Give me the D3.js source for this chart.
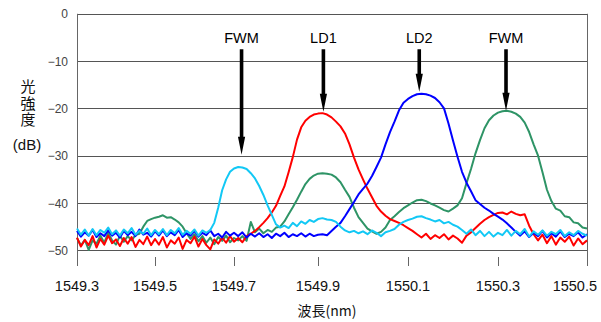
<!DOCTYPE html>
<html><head><meta charset="utf-8">
<script src="https://cdn.jsdelivr.net/npm/d3@7"></script>
<style>body{margin:0;background:#fff}svg{display:block}</style>
</head><body><svg id="c" width="601" height="322"></svg>
<script>
const wavelengths = [1549.30,1549.31,1549.32,1549.33,1549.34,1549.35,1549.36,1549.37,1549.38,1549.39,1549.40,1549.41,1549.42,1549.43,1549.44,1549.45,1549.46,1549.47,1549.48,1549.49,
1549.50,1549.51,1549.52,1549.53,1549.54,1549.55,1549.56,1549.57,1549.58,1549.59,1549.60,1549.61,1549.62,1549.63,1549.64,1549.65,1549.66,1549.67,1549.68,1549.69,
1549.70,1549.71,1549.72,1549.73,1549.74,1549.75,1549.76,1549.77,1549.78,1549.79,1549.80,1549.81,1549.82,1549.83,1549.84,1549.85,1549.86,1549.87,1549.88,1549.89,
1549.90,1549.91,1549.92,1549.93,1549.94,1549.95,1549.96,1549.97,1549.98,1549.99,1550.00,1550.01,1550.02,1550.03,1550.04,1550.05,1550.06,1550.07,1550.08,1550.09,
1550.10,1550.11,1550.12,1550.13,1550.14,1550.15,1550.16,1550.17,1550.18,1550.19,1550.20,1550.21,1550.22,1550.23,1550.24,1550.25,1550.26,1550.27,1550.28,1550.29,
1550.30,1550.31,1550.32,1550.33,1550.34,1550.35,1550.36,1550.37,1550.38,1550.39,1550.40,1550.41,1550.42,1550.43,1550.44,1550.45,1550.46,1550.47,1550.48,1550.49,1550.50];

const greenPower = [-47.4,-49.0,-47.8,-49.9,-47.9,-48.6,-46.9,-48.4,-46.3,-47.9,-48.8,-46.9,-48.2,-47.0,-47.9,-46.8,-46.5,-45.0,-43.8,-43.4,-43.1,
-42.9,-42.6,-43.1,-43.0,-43.5,-44.1,-45.0,-46.4,-47.6,-46.6,-48.1,-47.0,-48.4,-47.3,-48.7,-47.2,-48.0,-46.9,-48.3,-47.4,
-47.9,-47.0,-48.0,-44.0,-46.2,-45.4,-46.4,-45.7,-46.1,-45.2,-45.0,-43.9,-42.4,-40.9,-39.3,-37.6,-36.0,-34.9,-34.2,-33.8,
-33.7,-33.8,-34.0,-34.6,-35.6,-37.2,-38.7,-41.0,-43.0,-44.2,-45.4,-46.0,-46.5,-46.1,-45.2,-43.6,-42.8,-41.9,-41.1,-40.5,
-39.9,-39.4,-39.3,-39.6,-40.1,-40.5,-41.0,-41.5,-41.8,-41.2,-40.5,-39.0,-35.8,-32.8,-29.5,-26.7,-24.2,-22.5,-21.5,-20.9,
-20.6,-20.5,-20.7,-21.1,-21.8,-23.0,-25.0,-27.6,-30.0,-33.5,-37.2,-39.6,-41.2,-41.6,-42.8,-43.0,-44.1,-44.3,-45.2,-45.4];

const redPower = [-47.3,-49.2,-47.8,-48.9,-47.0,-49.4,-47.6,-48.8,-46.9,-48.5,-47.7,-49.1,-47.4,-48.6,-47.2,-49.3,-47.8,-48.7,-47.1,-48.9,-47.6,
-48.8,-47.2,-49.4,-47.9,-48.6,-47.3,-49.7,-47.8,-48.5,-47.1,-49.2,-47.6,-48.9,-49.8,-47.7,-48.6,-47.3,-48.4,-47.0,-48.2,
-47.4,-48.3,-47.0,-46.5,-45.9,-45.1,-44.2,-43.2,-42.0,-40.6,-38.5,-36.5,-33.5,-30.3,-26.6,-24.0,-22.6,-21.8,-21.3,-21.1,
-21.0,-21.3,-21.9,-22.8,-23.8,-25.3,-27.6,-30.4,-32.9,-35.0,-37.0,-38.8,-40.6,-41.8,-42.7,-43.4,-43.8,-44.2,-44.7,-45.3,
-45.9,-46.6,-47.3,-46.5,-47.6,-46.8,-47.4,-46.6,-47.7,-46.9,-47.5,-48.4,-46.9,-46.2,-45.3,-44.4,-43.6,-43.0,-42.5,-42.1,
-42.0,-42.4,-41.8,-42.3,-42.6,-42.4,-44.8,-46.6,-47.9,-46.7,-48.5,-47.0,-48.8,-47.3,-48.2,-47.1,-49.0,-47.5,-48.7,-47.9];

const bluePower = [-45.9,-47.1,-46.2,-46.9,-45.7,-47.2,-46.4,-47.0,-45.8,-46.9,-46.3,-47.3,-45.9,-46.8,-46.1,-47.0,-45.6,-46.7,-46.3,-47.1,-46.0,
-46.9,-45.8,-47.0,-46.2,-46.8,-45.7,-47.2,-46.4,-46.9,-45.9,-47.1,-46.3,-46.8,-45.8,-47.0,-46.5,-47.3,-46.1,-46.9,-46.3,
-47.0,-46.2,-47.3,-46.5,-47.1,-46.4,-47.2,-46.6,-47.4,-46.5,-47.0,-46.3,-47.2,-46.6,-47.0,-46.4,-47.1,-46.5,-47.0,-46.7,
-46.6,-46.8,-45.9,-45.0,-44.2,-42.8,-41.3,-39.8,-38.2,-37.0,-35.9,-34.3,-32.4,-30.4,-27.6,-25.0,-22.8,-20.4,-18.8,-18.0,
-17.4,-17.0,-16.9,-17.0,-17.3,-17.8,-18.7,-20.0,-23.2,-26.8,-30.2,-33.4,-35.7,-37.5,-39.4,-40.2,-41.0,-41.6,-42.3,-42.9,
-43.5,-44.3,-45.2,-46.1,-46.9,-46.0,-47.2,-46.3,-47.0,-45.9,-47.3,-46.4,-47.1,-46.0,-47.2,-46.5,-47.0,-46.2,-47.3,-46.6];

const cyanPower = [-45.4,-46.7,-45.6,-46.9,-45.5,-46.8,-45.7,-46.3,-45.2,-46.6,-45.8,-46.9,-45.6,-46.4,-45.3,-46.7,-45.9,-46.5,-45.4,-46.8,-45.7,
-46.6,-45.5,-46.8,-45.7,-46.4,-45.3,-46.7,-45.9,-46.5,-45.6,-46.9,-45.8,-46.3,-45.7,-44.2,-41.0,-37.3,-35.0,-33.4,-32.7,
-32.4,-32.5,-32.8,-33.7,-34.8,-36.4,-38.3,-40.5,-42.5,-44.5,-45.2,-44.8,-45.3,-44.2,-44.9,-43.9,-44.4,-43.6,-44.0,-43.4,
-43.2,-43.5,-43.6,-44.0,-45.0,-45.8,-46.2,-45.9,-46.4,-46.0,-46.6,-45.8,-46.3,-47.0,-46.2,-45.9,-45.5,-44.6,-44.0,-43.6,
-43.3,-42.9,-42.8,-43.2,-43.5,-43.9,-43.6,-44.3,-44.0,-44.6,-45.0,-45.7,-46.5,-45.6,-46.8,-45.9,-47.0,-46.1,-47.1,-46.3,
-46.8,-45.7,-46.9,-45.9,-46.6,-45.5,-47.1,-46.0,-46.7,-45.8,-46.9,-46.1,-46.6,-45.7,-47.0,-46.2,-46.8,-45.9,-46.5,-46.9];

const xTicks = [1549.3,1549.5,1549.7,1549.9,1550.1,1550.3,1550.5];
const xTickLabels = ["1549.3","1549.5","1549.7","1549.9","1550.1","1550.3","1550.5"];
const yTicks = [0,-10,-20,-30,-40,-50];
const yTickLabels = ["0","\u221210","\u221220","\u221230","\u221240","\u221250"];
const arrowLabels = ["FWM","LD1","LD2","FWM"];
const arrowX = [1549.718,1549.912,1550.125,1550.318];
const arrowTip = [-29.8,-20.7,-16.5,-20.5];
const arrowTop = -7.5;

const seriesList = [
  {values: greenPower, color: "#2e9466"},
  {values: redPower, color: "#ff0000"},
  {values: bluePower, color: "#0000ff"},
  {values: cyanPower, color: "#12c8f5"}
];

const svg = d3.select("#c");
const x = d3.scaleLinear().domain(xTicks).range([77,155,234,318,408,498,587]);
const y = d3.scaleLinear().domain([0,-50]).range([13.8,250.3]);
const font = "'Liberation Sans', Arial, sans-serif";
const cjk = "'Noto Sans CJK JP', 'Noto Sans CJK SC', sans-serif";

// gridlines
svg.append("g").selectAll("line").data(yTicks).join("line")
  .attr("x1", x(1549.3)).attr("x2", x(1550.5))
  .attr("y1", d => Math.round(y(d)) + 0.5).attr("y2", d => Math.round(y(d)) + 0.5)
  .attr("stroke", "#555").attr("stroke-width", 1);

// frame verticals & x ticks
const axisBottom = 266;
svg.append("g").selectAll("line").data(xTicks).join("line")
  .attr("x1", d => Math.round(x(d)) + 0.5).attr("x2", d => Math.round(x(d)) + 0.5)
  .attr("y1", (d, i) => (i === 0 || i === xTicks.length - 1) ? y(0) : 257)
  .attr("y2", axisBottom)
  .attr("stroke", "#666").attr("stroke-width", 1);

// y tick labels
svg.append("g").selectAll("text").data(yTicks).join("text")
  .attr("x", 68).attr("y", d => y(d) + 4.5)
  .attr("text-anchor", "end").attr("font-family", font).attr("font-size", 12)
  .attr("fill", "#444").text((d, i) => yTickLabels[i]);

// x tick labels
svg.append("g").selectAll("text").data(xTicks).join("text")
  .attr("x", (d, i) => i === xTicks.length - 1 ? 597 : x(d))
  .attr("y", 291)
  .attr("text-anchor", (d, i) => i === xTicks.length - 1 ? "end" : "middle")
  .attr("font-family", font).attr("font-size", 14.5).attr("fill", "#111")
  .text((d, i) => xTickLabels[i]);

// axis titles
svg.append("text").attr("x", 327).attr("y", 316).attr("text-anchor", "middle")
  .attr("font-family", cjk).attr("font-size", 14).attr("fill", "#111").text("波長(nm)");
svg.append("text").attr("x", 28).attr("y", 79)
  .attr("font-family", cjk).attr("font-size", 15).attr("fill", "#111")
  .style("writing-mode", "vertical-rl").style("text-orientation", "upright")
  .attr("letter-spacing", 1.5).text("光強度");
svg.append("text").attr("x", 27).attr("y", 150).attr("text-anchor", "middle")
  .attr("font-family", font).attr("font-size", 15).attr("fill", "#111").text("(dB)");

// spectra
const line = d3.line().x((d, i) => x(wavelengths[i])).y(d => y(d));
svg.append("g").selectAll("path").data(seriesList).join("path")
  .attr("d", s => line(s.values))
  .attr("fill", "none").attr("stroke", s => s.color)
  .attr("stroke-width", 2).attr("stroke-linejoin", "round");

// arrows
const arrows = svg.append("g");
arrowX.forEach((ax, i) => {
  const cx = x(ax), top = y(arrowTop), tip = y(arrowTip[i]);
  const headLen = 18, headW = 3.6, shaftW = 1.8;
  arrows.append("path")
    .attr("d", `M${cx - shaftW},${top} L${cx + shaftW},${top} L${cx + shaftW},${tip - headLen} L${cx + headW},${tip - headLen} L${cx},${tip} L${cx - headW},${tip - headLen} L${cx - shaftW},${tip - headLen} Z`)
    .attr("fill", "#000");
  arrows.append("text").attr("x", cx).attr("y", 43).attr("text-anchor", "middle")
    .attr("font-family", font).attr("font-size", 14.5).attr("fill", "#000").text(arrowLabels[i]);
});
</script></body></html>
